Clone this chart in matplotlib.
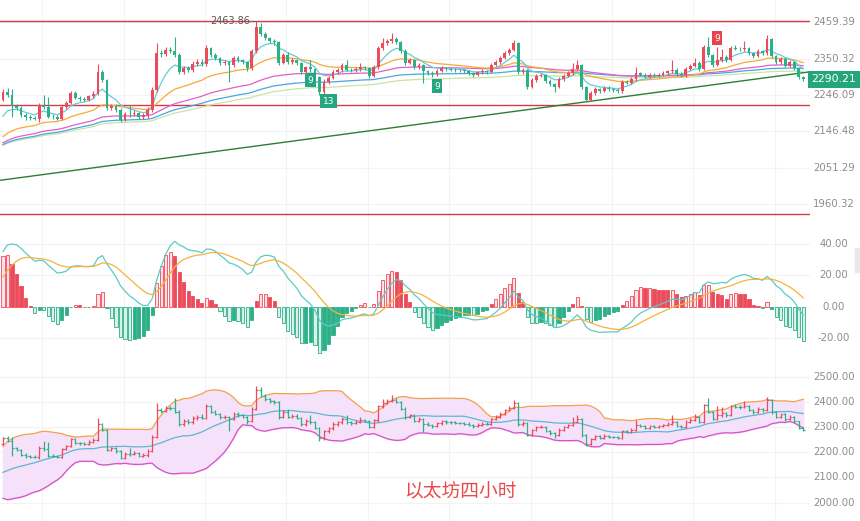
import numpy as np
import pandas as pd
import matplotlib
matplotlib.use("Agg")
import matplotlib.pyplot as plt
from matplotlib.patches import Rectangle

# ETH 4h candles (log price axis on top panel)
# closes just before the visible window: only feed the indicators
warmup_close = [2055, 2068, 2060, 2075, 2082, 2070, 2088, 2095, 2080, 2092,
                2085, 2100, 2078, 2090, 2104, 2096, 2082, 2098, 2110, 2092,
                2090, 2088, 2102, 2095, 2084, 2100, 2130, 2170, 2210, 2232]
open0 = 2232
close = [2255, 2246, 2215, 2210, 2191, 2184, 2183, 2181, 2218, 2212,
         2186, 2185, 2181, 2213, 2224, 2252, 2238, 2235, 2233, 2242,
         2250, 2311, 2288, 2210, 2216, 2205, 2178, 2194, 2192, 2196,
         2185, 2190, 2205, 2260, 2367, 2364, 2376, 2374, 2361, 2311,
         2323, 2318, 2335, 2340, 2336, 2382, 2361, 2352, 2338, 2340,
         2332, 2352, 2346, 2340, 2323, 2373, 2445, 2425, 2412, 2403,
         2399, 2338, 2361, 2340, 2345, 2337, 2311, 2325, 2320, 2297,
         2255, 2283, 2295, 2311, 2318, 2332, 2318, 2316, 2320, 2326,
         2323, 2300, 2326, 2382, 2397, 2403, 2408, 2400, 2373, 2338,
         2346, 2325, 2332, 2313, 2309, 2305, 2315, 2323, 2320, 2318,
         2317, 2316, 2314, 2308, 2303, 2310, 2314, 2312, 2332, 2340,
         2352, 2367, 2376, 2397, 2311, 2317, 2269, 2288, 2300, 2302,
         2286, 2276, 2269, 2290, 2300, 2308, 2320, 2332, 2268, 2232,
         2252, 2263, 2258, 2266, 2262, 2260, 2257, 2283, 2281, 2290,
         2308, 2304, 2298, 2304, 2301, 2304, 2308, 2313, 2318, 2305,
         2302, 2321, 2329, 2338, 2320, 2386, 2361, 2332, 2346, 2355,
         2346, 2382, 2380, 2378, 2382, 2367, 2358, 2373, 2366, 2409,
         2358, 2340, 2350, 2330, 2340, 2322, 2297, 2290.21]
high = [2262, 2266, 2262, 2222, 2214, 2196, 2190, 2188, 2224, 2246,
        2240, 2192, 2190, 2218, 2230, 2258, 2258, 2242, 2240, 2247,
        2256, 2335, 2316, 2292, 2222, 2220, 2210, 2200, 2218, 2203,
        2200, 2196, 2212, 2268, 2397, 2376, 2385, 2384, 2416, 2366,
        2330, 2330, 2342, 2348, 2350, 2390, 2386, 2366, 2356, 2346,
        2344, 2358, 2358, 2350, 2344, 2380, 2463.86, 2458, 2430, 2416,
        2408, 2404, 2367, 2370, 2352, 2350, 2341, 2330, 2346, 2324,
        2300, 2290, 2300, 2318, 2324, 2338, 2346, 2324, 2326, 2338,
        2330, 2327, 2332, 2388, 2412, 2410, 2427, 2414, 2404, 2378,
        2352, 2350, 2338, 2336, 2318, 2314, 2320, 2328, 2327, 2324,
        2322, 2321, 2320, 2318, 2312, 2315, 2319, 2318, 2337, 2346,
        2358, 2373, 2382, 2406, 2400, 2322, 2320, 2294, 2305, 2308,
        2306, 2290, 2280, 2296, 2305, 2314, 2338, 2346, 2336, 2272,
        2258, 2268, 2267, 2272, 2270, 2266, 2265, 2288, 2288, 2296,
        2326, 2312, 2308, 2309, 2308, 2309, 2313, 2318, 2346, 2322,
        2310, 2326, 2335, 2352, 2342, 2392, 2415, 2365, 2385, 2378,
        2360, 2388, 2391, 2386, 2403, 2386, 2371, 2378, 2377, 2421,
        2412, 2362, 2356, 2354, 2346, 2344, 2325, 2300]
low = [2228, 2240, 2186, 2204, 2186, 2178, 2178, 2176, 2172, 2206,
       2182, 2180, 2176, 2176, 2208, 2220, 2234, 2230, 2228, 2229,
       2238, 2246, 2283, 2205, 2204, 2199, 2172, 2174, 2186, 2188,
       2180, 2180, 2183, 2200, 2255, 2356, 2358, 2366, 2355, 2305,
       2305, 2312, 2312, 2328, 2330, 2330, 2355, 2346, 2332, 2333,
       2283, 2326, 2340, 2334, 2314, 2318, 2368, 2418, 2405, 2396,
       2392, 2332, 2334, 2334, 2336, 2332, 2306, 2305, 2311, 2292,
       2245, 2250, 2278, 2290, 2305, 2312, 2314, 2310, 2311, 2315,
       2318, 2295, 2296, 2320, 2375, 2392, 2398, 2395, 2368, 2332,
       2334, 2320, 2320, 2280, 2303, 2298, 2300, 2310, 2314, 2313,
       2312, 2311, 2309, 2303, 2298, 2299, 2306, 2307, 2308, 2328,
       2336, 2348, 2362, 2372, 2306, 2306, 2264, 2265, 2284, 2296,
       2281, 2270, 2255, 2265, 2286, 2296, 2304, 2316, 2262, 2226,
       2228, 2247, 2253, 2254, 2257, 2255, 2252, 2253, 2276, 2277,
       2286, 2299, 2294, 2294, 2297, 2298, 2300, 2304, 2309, 2300,
       2297, 2298, 2317, 2325, 2315, 2316, 2356, 2327, 2328, 2341,
       2341, 2342, 2375, 2373, 2374, 2362, 2353, 2354, 2361, 2362,
       2353, 2335, 2336, 2325, 2326, 2317, 2292, 2286]

levels = [2463, 2219, 1937]
trend_x = [-0.7, 178.5]
trend_y = [2019, 2312]
td_idx = [68, 72, 96, 158]
td_text = ["9", "13", "9", "9"]
td_price = [2288, 2229, 2271, 2411]
td_color = ["#26a67f", "#26a67f", "#26a67f", "#e8434f"]
last_price = 2290.21

top_ticks = [2459.39, 2350.32, 2246.09, 2146.48, 2051.29, 1960.32]
macd_ticks = [40, 20, 0, -20]
boll_ticks = [2500, 2400, 2300, 2200, 2100, 2000]
ma_spans = [7, 25, 60, 100, 150]
ma_colors = ["#62cdd6", "#f6aa3a", "#e35fc6", "#4ba6df", "#c9e3a6"]

RED, GREEN = "#eb4b5a", "#2bb088"
GRID = "#f3f3f3"
LABEL = "#8c8c8c"

c = np.array(close, dtype=float)
h = np.array(high, dtype=float)
l = np.array(low, dtype=float)
o = np.r_[open0, c[:-1]]
n = len(c)
x = np.arange(n)
up = c >= o
col = np.where(up, RED, GREEN)

full = pd.Series(warmup_close + close, dtype=float)
w = len(warmup_close)
ema12 = full.ewm(span=12, adjust=False).mean()
ema26 = full.ewm(span=26, adjust=False).mean()
dif = ema12 - ema26
dea = dif.ewm(span=9, adjust=False).mean()
hist = (2 * (dif - dea)).values
dif, dea = dif.values[w:], dea.values[w:]
prev_hist = hist[w - 1:-1]
hist = hist[w:]
mid = full.rolling(20).mean().values[w:]
sd = full.rolling(20).std(ddof=0).values[w:]
upper, lower = mid + 2 * sd, mid - 2 * sd

fig = plt.figure(figsize=(8.6, 5.21), dpi=100)
W = 810 / 860
ax1 = fig.add_axes([0, 293 / 521, W, 228 / 521])
ax2 = fig.add_axes([0, 156 / 521, W, 137 / 521])
ax3 = fig.add_axes([0, 0, W, 156 / 521])
LX = 834 / 810

for ax in (ax1, ax2, ax3):
    ax.set_xlim(-0.66, 178.5)
    for s in ax.spines.values():
        s.set_visible(False)
    ax.set_xticks([])
    ax.set_yticks([])
    ax.minorticks_off()
    for gx in [8.7, 26.7, 44.7, 62.7, 80.7, 98.7, 116.7, 134.7, 152.7, 170.7]:
        ax.axvline(gx, color=GRID, lw=0.8, zorder=0)

# --- price panel
ax1.set_yscale("log")
ax1.set_ylim(1902.4, 2528.8)
ax1.yaxis.set_minor_locator(matplotlib.ticker.NullLocator())
ax1.yaxis.set_major_locator(matplotlib.ticker.NullLocator())
for t in top_ticks:
    ax1.axhline(t, color=GRID, lw=0.8, zorder=0)
    ax1.text(LX, t, f"{t:.2f}", transform=ax1.get_yaxis_transform(),
             ha="center", va="center", fontsize=7.3, color=LABEL, clip_on=False)
for lv in levels:
    ax1.axhline(lv, color="#d8394a", lw=1.0, zorder=1)
ax1.plot(trend_x, trend_y, color="#2f7d32", lw=1.0, zorder=2)
ema_full = [full.ewm(span=s).mean().values[w:] for s in ma_spans]
for m, mc in zip(ema_full[::-1], ma_colors[::-1]):
    ax1.plot(x, m, color=mc, lw=0.9, zorder=3)
ax1.vlines(x, l, h, colors=col, lw=0.8, zorder=4)
ax1.bar(x, np.maximum(np.abs(c - o), 0.8), bottom=np.minimum(o, c),
        width=0.62, color=col, zorder=5)
ax1.plot([54.8, 56], [2463.86, 2463.86], color="#666666", lw=0.7)
ax1.text(54.6, 2463.86, "2463.86", ha="right", va="center", fontsize=7, color="#555555")
for i, t, p, tc in zip(td_idx, td_text, td_price, td_color):
    ax1.text(i, p, t, ha="center", va="center", fontsize=6.5, color="white", zorder=6,
             bbox=dict(boxstyle="square,pad=0.25", fc=tc, ec="none"))
ax1.text(LX, last_price, f"{last_price:.2f}", transform=ax1.get_yaxis_transform(),
         ha="center", va="center", fontsize=7.8, color="white", clip_on=False,
         bbox=dict(boxstyle="square,pad=0.35", fc="#23a67c", ec="none"))
ax1.plot([1.0, 1.005], [last_price, last_price], transform=ax1.get_yaxis_transform(),
         color="#23a67c", lw=1, clip_on=False)

# --- MACD panel
ax2.set_ylim(-37.1, 50.1)
for t in macd_ticks:
    ax2.axhline(t, color=GRID, lw=0.8, zorder=0)
    ax2.text(LX, t, f"{t:.2f}", transform=ax2.get_yaxis_transform(),
             ha="center", va="center", fontsize=7.3, color=LABEL, clip_on=False)
grow = np.abs(hist) >= np.abs(prev_hist)
pos = hist >= 0
face = np.where(pos, np.where(grow, "#fde1e5", RED), np.where(grow, "#d9f1e8", GREEN))
edge = np.where(pos, RED, GREEN)
ax2.bar(x, hist, width=0.7, color=face, edgecolor=edge, linewidth=0.6, zorder=3)
ax2.plot(x, dif, color="#5ccbc6", lw=0.9, zorder=4)
ax2.plot(x, dea, color="#f5b23f", lw=0.9, zorder=4)

# --- Bollinger panel
ax3.set_ylim(1927.4, 2546)
for t in boll_ticks:
    ax3.axhline(t, color=GRID, lw=0.8, zorder=0)
    ax3.text(LX, t, f"{t:.2f}", transform=ax3.get_yaxis_transform(),
             ha="center", va="center", fontsize=7.3, color=LABEL, clip_on=False)
ax3.fill_between(x, lower, upper, color="#f6e1fa", zorder=1)
ax3.plot(x, upper, color="#f4a24a", lw=0.9, zorder=2)
ax3.plot(x, mid, color="#5db7cf", lw=0.9, zorder=2)
ax3.plot(x, lower, color="#d452c2", lw=0.9, zorder=2)
ax3.vlines(x, l, h, colors=col, lw=0.9, zorder=3)
ax3.hlines(o, x - 0.4, x, colors=col, lw=0.9, zorder=3)
ax3.hlines(c, x, x + 0.4, colors=col, lw=0.9, zorder=3)

fig.text(460 / 860, 29 / 521, "以太坊四小时", color="#e84a4a", fontsize=13.5,
         ha="center", va="center", family=["Noto Sans CJK SC", "DejaVu Sans"])
fig.patches.append(Rectangle((855 / 860, 249 / 521), 5 / 860, 24 / 521,
                             transform=fig.transFigure, color="#e8e8e8"))

fig.savefig("out.png", dpi=100)
